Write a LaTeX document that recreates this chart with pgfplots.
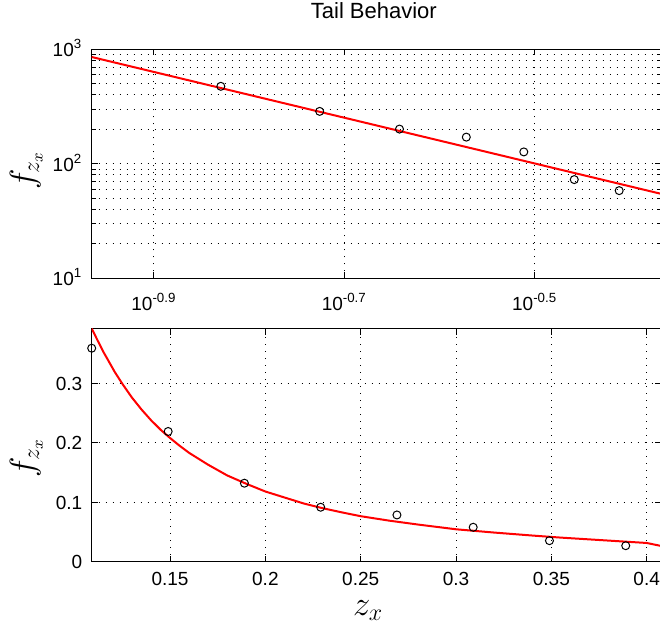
\documentclass[border=0pt]{standalone}
\usepackage{fontspec}
\setmainfont{Liberation Sans}
\usepackage{pgfplots}
\pgfplotsset{compat=1.18}

\pgfplotsset{
  tailax/.style={
    scale only axis, anchor=south west,
    width=284.65pt,
    axis line style={line width=0.5pt},
    tick align=inside,
    major tick length=3pt, minor tick length=2pt,
    every tick/.style={black, line width=0.5pt},
    grid style={black, line width=0.5pt, dash pattern=on 0.5pt off 3pt},
    tick label style={font=\fontsize{9.5}{11}\selectfont},
    yticklabel style={anchor=base east, yshift=-3.6pt, xshift=-1.2pt},
    /pgf/number format/assume math mode=true,
    label style={font=\fontsize{17}{20}\selectfont},
  },
  fitline/.style={red, line width=1pt, mark=none, line join=round},
  pts/.style={only marks, mark=o, mark size=2pt, black, mark options={line width=0.5pt}},
}

\begin{document}
\begin{tikzpicture}
\path[use as bounding box] (0,0) rectangle (330pt,311.5pt);

% top: log-log tail
\begin{axis}[tailax,
  at={(45.85pt,172.35pt)}, height=114.5pt,
  xmode=log, ymode=log,
  xmin=0.10829, xmax=0.4292, ymin=10, ymax=1000,
  xtick={0.125893,0.199526,0.316228},
  xticklabels={10\textsuperscript{-0.9},10\textsuperscript{-0.7},10\textsuperscript{-0.5}},
  xminorticks=false,
  xticklabel style={anchor=base, yshift=-16pt},
  ytick={10,100,1000},
  yticklabels={10\textsuperscript{1},10\textsuperscript{2},10\textsuperscript{3}},
  minor ytick={20,30,40,50,60,70,80,90,200,300,400,500,600,700,800,900},
  xmajorgrids, ymajorgrids, yminorgrids,
  title={Tail Behavior},
  title style={at={(axis description cs:0.4956,1)}, anchor=base, yshift=9.5pt, font=\fontsize{11}{13}\selectfont},
  ylabel={$f_{z_x}$},
  ylabel style={at={(axis description cs:-0.1014,0.4716)}, anchor=base},
]
\addplot[fitline] coordinates {(0.10829,856.6) (0.4292,54.7)};
\addplot[pts] coordinates {
  (0.148,475) (0.188,287) (0.228,201) (0.268,171)
  (0.308,127) (0.348,72.8) (0.388,58.3)
};
\end{axis}

% bottom: linear
\begin{axis}[tailax,
  at={(45.85pt,30.65pt)}, height=116.35pt,
  xmin=0.1089, xmax=0.4075, ymin=0, ymax=0.3913,
  clip marker paths=false,
  xtick={0.15,0.2,0.25,0.3,0.35,0.4},
  xticklabels={0.15,0.2,0.25,0.3,0.35,0.4},
  xticklabel style={anchor=base, yshift=-11.7pt},
  ytick={0,0.1,0.2,0.3},
  yticklabels={0,0.1,0.2,0.3},
  grid=major,
  ylabel={$f_{z_x}$},
  ylabel style={at={(axis description cs:-0.1014,0.448)}, anchor=base},
  xlabel={$z_x$},
  xlabel style={at={(axis description cs:0.4856,0)}, anchor=base, yshift=-27pt},
]
\addplot[fitline] coordinates {
  (0.1089,0.392) (0.112,0.372) (0.115,0.353) (0.118,0.336) (0.121,0.319)
  (0.125,0.299) (0.130,0.276) (0.135,0.256) (0.140,0.238) (0.145,0.222)
  (0.150,0.208) (0.155,0.195) (0.160,0.183) (0.170,0.163) (0.180,0.145)
  (0.190,0.131) (0.200,0.118) (0.210,0.108) (0.220,0.098) (0.230,0.090)
  (0.240,0.083) (0.250,0.0765) (0.265,0.0690) (0.280,0.0625) (0.300,0.0545)
  (0.320,0.0490) (0.340,0.0440) (0.355,0.0405) (0.370,0.0375) (0.385,0.0345)
  (0.400,0.0315) (0.4075,0.0265)
};
\addplot[pts] coordinates {
  (0.1089,0.359) (0.149,0.219) (0.189,0.132) (0.229,0.0916)
  (0.269,0.0786) (0.309,0.0579) (0.349,0.0354) (0.389,0.0269)
};
\end{axis}
\end{tikzpicture}
\end{document}
